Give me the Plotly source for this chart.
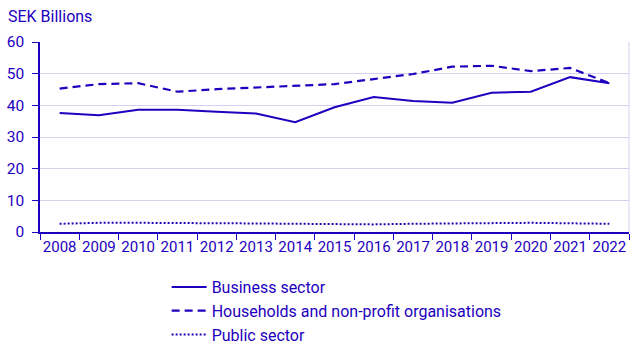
import plotly.graph_objects as go

years = [str(y) for y in range(2008, 2023)]
business = [37.6, 36.9, 38.6, 38.6, 38.0, 37.4, 34.7, 39.4, 42.6, 41.4, 40.8, 44.0, 44.3, 48.9, 47.0]
households = [45.3, 46.7, 47.0, 44.3, 45.1, 45.6, 46.2, 46.7, 48.3, 49.9, 52.2, 52.5, 50.8, 51.8, 47.0]
public = [2.6, 2.9, 2.9, 2.9, 2.8, 2.7, 2.6, 2.4, 2.4, 2.6, 2.8, 2.8, 2.9, 2.8, 2.6]
y_ticks = [0, 10, 20, 30, 40, 50, 60]

BLUE = "#1e00be"
GRID = "#d2d2f0"
FONT = "Roboto, Arial, sans-serif"

fig = go.Figure()
fig.add_trace(go.Scatter(x=years, y=business, mode="lines", name="Business sector",
                         line=dict(color=BLUE, width=2)))
fig.add_trace(go.Scatter(x=years, y=households, mode="lines", name="Households and non-profit organisations",
                         line=dict(color=BLUE, width=2.2, dash="8px,5px")))
fig.add_trace(go.Scatter(x=years, y=public, mode="lines", name="Public sector",
                         line=dict(color=BLUE, width=2, dash="2px,2px")))

fig.update_layout(
    width=643, height=351,
    margin=dict(l=40, r=14, t=42, b=119, autoexpand=False),
    paper_bgcolor="white", plot_bgcolor="white",
    font=dict(family=FONT, size=15, color=BLUE),
    showlegend=True,
    legend=dict(x=0.215, xref="paper", y=1 - 270 / 351, yref="container",
                xanchor="left", yanchor="top", orientation="v", itemwidth=35,
                font=dict(family=FONT, size=16, color=BLUE), tracegroupgap=0,
                bgcolor="rgba(0,0,0,0)"),
    annotations=[dict(text="SEK Billions", xref="paper", yref="paper", x=0, y=1,
                      xanchor="left", yanchor="middle", showarrow=False,
                      xshift=-34, yshift=26,
                      font=dict(family=FONT, size=16, color=BLUE))],
    shapes=[dict(type="line", xref="paper", yref="paper", x0=1, x1=1, y0=0, y1=1,
                 line=dict(color=GRID, width=1))],
)
fig.update_xaxes(type="category", tickson="boundaries", ticks="outside", ticklen=6,
                 tickcolor=BLUE, showline=True, linecolor=BLUE, linewidth=1.5,
                 showgrid=False, tickfont=dict(family=FONT, size=15, color=BLUE),
                 range=[-0.5, 14.5], tickangle=0)
fig.update_yaxes(range=[0, 60], tickvals=y_ticks, ticks="outside", ticklen=6,
                 tickcolor=BLUE, showline=True, linecolor=BLUE, linewidth=1.5,
                 showgrid=True, gridcolor=GRID, gridwidth=1, zeroline=False,
                 ticklabelstandoff=5,
                 tickfont=dict(family=FONT, size=15.5, color=BLUE))

fig.write_html("out.html")
